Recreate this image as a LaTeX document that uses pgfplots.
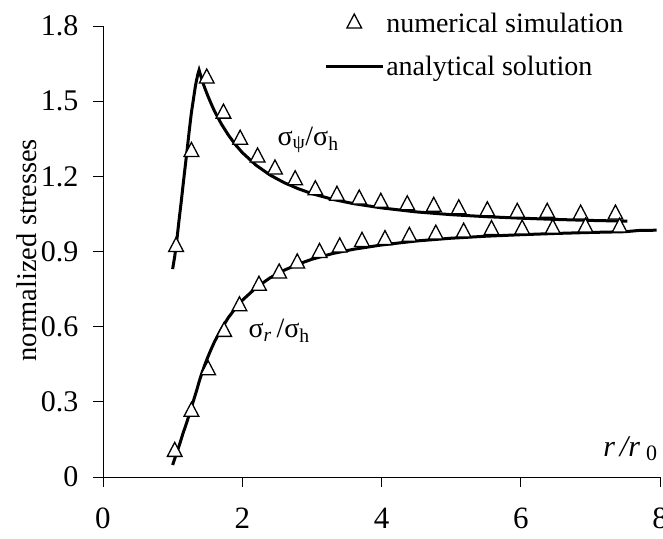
\documentclass[border=0pt]{standalone}
\usepackage{fontspec}
\setmainfont{Liberation Serif}
\usepackage{pgfplots}
\pgfplotsset{compat=1.18}
\pgfplotsset{
  trilegend/.style={legend image code/.code={\draw[##1] plot coordinates {(0pt,0pt)};}},
  linelegend/.style={legend image code/.code={\draw[##1] (-28.5pt,0pt) -- (28.5pt,0pt);}},
}
\begin{document}
\begin{tikzpicture}
\begin{axis}[
  scale only axis, width=557pt, height=451pt,
  xmin=0, xmax=8, ymin=0, ymax=1.8,
  axis x line*=bottom, axis y line*=left,
  axis line style={black, line width=0.8pt, -},
  xtick={0,2,4,6,8},
  ytick={0,0.3,0.6,0.9,1.2,1.5,1.8},
  yticklabels={0,0.3,0.6,0.9,1.2,1.5,1.8},
  tick align=outside, major tick length=9.5pt,
  tick style={black, line width=0.8pt},
  /pgf/number format/assume math mode=true,
  xticklabel style={font=\fontsize{31}{31}\selectfont, inner sep=0pt, yshift=-21.5pt},
  yticklabel style={font=\fontsize{30}{30}\selectfont, inner sep=0pt, xshift=-15pt},
  ylabel={normalized stresses},
  ylabel style={font=\fontsize{28.5}{28.5}\selectfont, at={(axis description cs:-0.1364,0.503)}, anchor=center},
  clip=false,
  legend style={at={(axis cs:3.175,1.861)}, anchor=north west, draw=none, fill=none,
    font=\fontsize{28}{28}\selectfont, inner sep=0pt, row sep=18pt},
  legend cell align=left,
]
% analytical solution, sigma_psi
\addplot[black, line width=3pt, forget plot] coordinates {
(1.00,0.83)(1.03,0.88)(1.06,0.945)(1.09,1.02)(1.12,1.09)(1.15,1.165)(1.18,1.238)(1.21,1.31)(1.24,1.385)(1.27,1.455)(1.30,1.51)(1.33,1.565)(1.36,1.605)(1.38,1.624)(1.42,1.586)(1.46,1.554)(1.50,1.525)(1.55,1.492)(1.60,1.461)(1.70,1.409)(1.80,1.365)(1.90,1.327)(2.00,1.295)(2.20,1.244)(2.40,1.205)(2.60,1.175)(2.80,1.151)(3.00,1.131)(3.30,1.108)(3.60,1.091)(4.00,1.074)(4.50,1.058)(5.00,1.047)(5.50,1.039)(6.00,1.033)(6.50,1.028)(7.00,1.024)(7.53,1.021)
};
% analytical solution, sigma_r
\addplot[black, line width=3pt, forget plot] coordinates {
(1.00,0.048)(1.05,0.09)(1.10,0.13)(1.15,0.175)(1.20,0.215)(1.25,0.26)(1.30,0.305)(1.35,0.35)(1.38,0.38)(1.42,0.414)(1.46,0.446)(1.50,0.475)(1.55,0.508)(1.60,0.539)(1.70,0.591)(1.80,0.636)(1.90,0.673)(2.00,0.705)(2.20,0.756)(2.40,0.795)(2.60,0.825)(2.80,0.849)(3.00,0.869)(3.30,0.892)(3.60,0.909)(4.00,0.926)(4.50,0.942)(5.00,0.953)(5.50,0.961)(6.00,0.967)(6.50,0.972)(7.00,0.976)(7.50,0.979)(7.70,0.984)(7.95,0.985)
};
% numerical simulation, sigma_psi
\addplot[only marks, mark=triangle*, mark size=8.5pt, mark options={fill=white, draw=black, line width=1.3pt, yscale=1.1}, trilegend]
coordinates {
(1.05,0.919)(1.27,1.298)(1.49,1.591)(1.73,1.451)(1.97,1.347)(2.22,1.276)(2.47,1.228)(2.76,1.185)(3.05,1.145)(3.36,1.123)(3.68,1.108)(3.99,1.095)(4.37,1.085)(4.75,1.079)(5.11,1.069)(5.52,1.061)(5.95,1.055)(6.38,1.055)(6.86,1.048)(7.36,1.048)
};
\addlegendentry{numerical simulation}
% numerical simulation, sigma_r
\addplot[only marks, mark=triangle*, mark size=8.5pt, mark options={fill=white, draw=black, line width=1.3pt, yscale=1.1}, forget plot]
coordinates {
(1.03,0.101)(1.27,0.261)(1.51,0.427)(1.74,0.580)(1.96,0.682)(2.24,0.764)(2.53,0.813)(2.79,0.853)(3.11,0.895)(3.40,0.917)(3.72,0.939)(4.05,0.946)(4.40,0.959)(4.78,0.968)(5.18,0.976)(5.58,0.986)(6.02,0.988)(6.46,0.991)(6.93,0.996)(7.42,0.996)
};
\addlegendimage{black, line width=3pt, linelegend}
\addlegendentry{analytical solution}
\node[anchor=base, inner sep=0pt, font=\fontsize{28}{28}\selectfont] at (axis cs:2.945,1.325) {σ\textsubscript{ψ}/σ\textsubscript{h}};
\node[anchor=base, inner sep=0pt, font=\fontsize{28}{28}\selectfont] at (axis cs:2.53,0.555) {σ\textsubscript{\itshape r}\,/σ\textsubscript{h}};
\node[anchor=base east, inner sep=0pt, font=\fontsize{30}{30}\selectfont] at (axis cs:7.96,0.08) {\itshape r\hspace{5pt}/r\hspace{6pt}\raisebox{-3.5pt}{\upshape\fontsize{22}{22}\selectfont 0}};
\end{axis}
\pgfresetboundingbox
\path (-103pt,-61pt) rectangle (560pt,477pt);
\end{tikzpicture}
\end{document}
